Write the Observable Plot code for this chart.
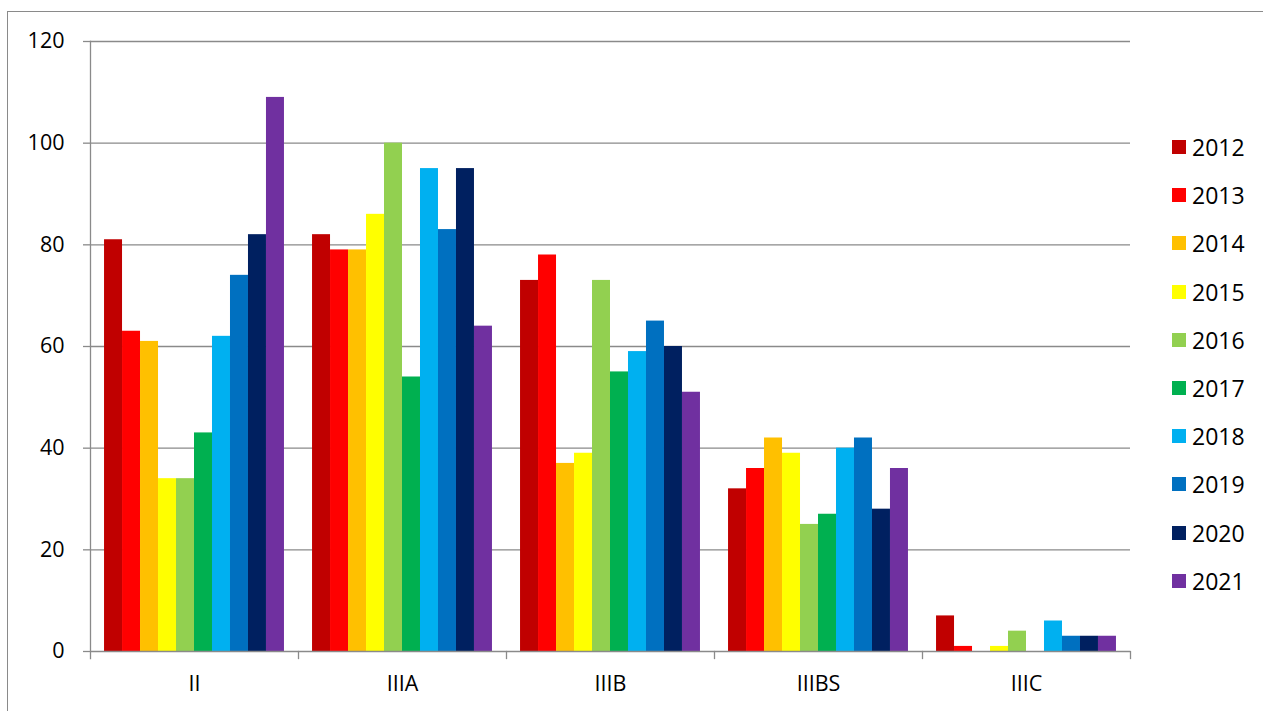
<!DOCTYPE html>
<html>
<head>
<meta charset="utf-8">
<script src="https://cdn.jsdelivr.net/npm/d3@7"></script>
<script src="https://cdn.jsdelivr.net/npm/@observablehq/plot@0.6"></script>
<style>
  html, body { margin: 0; padding: 0; background: #fff; }
  #wrap { position: relative; width: 1263px; height: 711px; overflow: hidden; font-family: "Open Sans", sans-serif; }
  #border { position: absolute; left: 7px; top: 11px; width: 1400px; height: 800px; border: 1px solid #8a8a8a; box-sizing: border-box; }
  #chart { position: absolute; left: 0; top: 0; }
  #legend { position: absolute; left: 1172px; top: 123px; }
  .lg-swatch { height: 48.2px; display: flex !important; align-items: center; margin: 0 !important; padding: 0 !important; }
  .lg-swatch svg { margin-right: 6px !important; }
</style>
</head>
<body>
<div id="wrap">
  <div id="border"></div>
  <div id="chart"></div>
  <div id="legend"></div>
</div>
<script>
const categories = ["II", "IIIA", "IIIB", "IIIBS", "IIIC"];
const years = ["2012", "2013", "2014", "2015", "2016", "2017", "2018", "2019", "2020", "2021"];
const colors = ["#C00000", "#FF0000", "#FFC000", "#FFFF00", "#92D050", "#00B050", "#00B0F0", "#0070C0", "#002060", "#7030A0"];
const valuesII    = [81, 63, 61, 34, 34, 43, 62, 74, 82, 109];
const valuesIIIA  = [82, 79, 79, 86, 100, 54, 95, 83, 95, 64];
const valuesIIIB  = [73, 78, 37, 39, 73, 55, 59, 65, 60, 51];
const valuesIIIBS = [32, 36, 42, 39, 25, 27, 40, 42, 28, 36];
const valuesIIIC  = [7, 1, 0, 1, 4, 0, 6, 3, 3, 3];
const yTicks = [0, 20, 40, 60, 80, 100, 120];

const series = [valuesII, valuesIIIA, valuesIIIB, valuesIIIBS, valuesIIIC];
const data = [];
categories.forEach((c, i) => years.forEach((y, j) => data.push({category: c, year: y, value: series[i][j]})));

const gray = "#8a8a8a";
const font = "'Open Sans', sans-serif";

const plot = Plot.plot({
  width: 1263,
  height: 711,
  marginTop: 41,
  marginLeft: 90,
  marginRight: 133,
  marginBottom: 60,
  style: {fontFamily: font, background: "transparent", color: "#000"},
  fx: {domain: categories, padding: 0, round: false, label: null},
  x: {domain: years, paddingInner: 0, paddingOuter: 0.78, round: false, axis: null},
  y: {domain: [0, 120], axis: null},
  color: {domain: years, range: colors},
  marks: [
    Plot.gridY(yTicks.slice(1), {stroke: gray, strokeOpacity: 1, strokeWidth: 1.3}),
    Plot.barY(data, {fx: "category", x: "year", y: "value", fill: "year", inset: 0}),
    Plot.ruleY([0], {stroke: gray, strokeWidth: 1.3}),
    Plot.frame({anchor: "right", stroke: gray, strokeWidth: 1.3, insetTop: 610, insetBottom: -7}),
    Plot.frame({anchor: "left", facetAnchor: "left", stroke: gray, strokeWidth: 1.3, insetBottom: -7}),
    Plot.axisY({ticks: yTicks, tickSize: 7, tickPadding: 19, fontSize: 21.5, stroke: gray, strokeWidth: 1.3, label: null, tickFormat: d => String(d)}),
    Plot.axisFx({anchor: "bottom", tickSize: 0, tickPadding: 24, fontSize: 21.5, label: null})
  ]
});
document.getElementById("chart").appendChild(plot);

const legend = Plot.legend({
  color: {domain: years, range: colors},
  columns: 1,
  swatchSize: 14,
  className: "lg",
  style: {fontFamily: font, fontSize: "23px", color: "#000"}
});
document.getElementById("legend").appendChild(legend);
</script>
</body>
</html>
